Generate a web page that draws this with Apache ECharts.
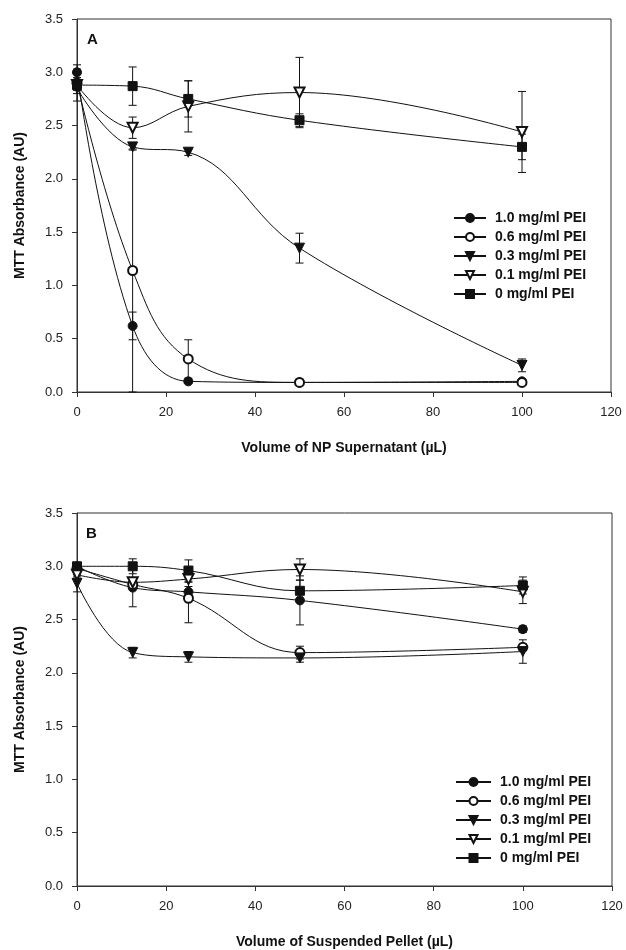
<!DOCTYPE html>
<html>
<head>
<meta charset="utf-8">
<script src="https://cdn.jsdelivr.net/npm/echarts@6/dist/echarts.min.js"></script>
<style>
html,body{margin:0;padding:0;background:#fff;}
#chart{width:626px;height:950px;}
</style>
</head>
<body>
<div id="chart"></div>
<script>
// ---- data ----
var xValues = [0, 12.5, 25, 50, 100];
var seriesNames = ['1.0 mg/ml PEI', '0.6 mg/ml PEI', '0.3 mg/ml PEI', '0.1 mg/ml PEI', '0 mg/ml PEI'];
var yTicks = [0, 0.5, 1.0, 1.5, 2.0, 2.5, 3.0, 3.5];
var xTicks = [0, 20, 40, 60, 80, 100, 120];

// Panel A: Volume of NP Supernatant
var a10 = [3.00, 0.62, 0.10, 0.09, 0.10];
var a10err = [0.07, 0.13, 0.02, 0.01, 0.01];
var a06 = [2.90, 1.14, 0.31, 0.09, 0.09];
var a06err = [0.05, 1.14, 0.18, 0.01, 0.01];
var a03 = [2.85, 2.30, 2.25, 1.35, 0.25];
var a03err = [0.05, 0.03, 0.03, 0.14, 0.06];
var a01 = [2.88, 2.48, 2.68, 2.81, 2.44];
var a01err = [0.05, 0.10, 0.24, 0.33, 0.38];
var a00 = [2.88, 2.87, 2.75, 2.55, 2.30];
var a00err = [0.15, 0.18, 0.17, 0.06, 0.12];

// Panel B: Volume of Suspended Pellet
var b10 = [3.00, 2.80, 2.76, 2.68, 2.41];
var b10err = [0.02, 0.18, 0.05, 0.23, 0.03];
var b06 = [2.98, 2.83, 2.70, 2.19, 2.24];
var b06err = [0.02, 0.03, 0.23, 0.06, 0.03];
var b03 = [2.84, 2.19, 2.15, 2.14, 2.20];
var b03err = [0.08, 0.05, 0.05, 0.04, 0.11];
var b01 = [2.92, 2.85, 2.88, 2.97, 2.76];
var b01err = [0.02, 0.03, 0.03, 0.10, 0.11];
var b00 = [3.00, 3.00, 2.96, 2.77, 2.82];
var b00err = [0.02, 0.07, 0.10, 0.10, 0.08];

// ---- chart ----
var FONT = '"Liberation Sans", Arial, Helvetica, sans-serif';
var INK = '#111';
var symbols = [
  {symbol: 'circle', size: 9, rotate: 0},
  {symbol: 'emptyCircle', size: 9, rotate: 0},
  {symbol: 'triangle', size: 10, rotate: 180},
  {symbol: 'emptyTriangle', size: 10, rotate: 180},
  {symbol: 'rect', size: 9, rotate: 0}
];

function pairs(vals) {
  return xValues.map(function (x, i) { return [x, vals[i]]; });
}
function errData(vals, errs) {
  return xValues.map(function (x, i) { return [x, vals[i] - errs[i], vals[i] + errs[i]]; });
}
function renderErr(params, api) {
  var x = api.value(0);
  var lo = api.coord([x, api.value(1)]);
  var hi = api.coord([x, api.value(2)]);
  var hw = 4;
  var st = {stroke: INK, lineWidth: 1};
  return {
    type: 'group',
    children: [
      {type: 'line', shape: {x1: lo[0], y1: lo[1], x2: hi[0], y2: hi[1]}, style: st},
      {type: 'line', shape: {x1: lo[0] - hw, y1: lo[1], x2: lo[0] + hw, y2: lo[1]}, style: st},
      {type: 'line', shape: {x1: hi[0] - hw, y1: hi[1], x2: hi[0] + hw, y2: hi[1]}, style: st}
    ]
  };
}

var panelA = [[a10, a10err], [a06, a06err], [a03, a03err], [a01, a01err], [a00, a00err]];
var panelB = [[b10, b10err], [b06, b06err], [b03, b03err], [b01, b01err], [b00, b00err]];

var series = [];
[panelA, panelB].forEach(function (panel, gi) {
  panel.forEach(function (d, si) {
    series.push({
      type: 'custom',
      xAxisIndex: gi, yAxisIndex: gi,
      renderItem: renderErr,
      data: errData(d[0], d[1]),
      z: 1,
      silent: true,
      clip: false
    });
  });
  panel.forEach(function (d, si) {
    var sy = symbols[si];
    series.push({
      name: seriesNames[si],
      type: 'line',
      xAxisIndex: gi, yAxisIndex: gi,
      data: pairs(d[0]),
      smooth: 0.4,
      symbol: sy.symbol,
      symbolSize: sy.size,
      symbolRotate: sy.rotate,
      showAllSymbol: true,
      lineStyle: {color: INK, width: 1},
      itemStyle: {color: INK, borderColor: INK, borderWidth: 1},
      z: 3 + si,
      animation: false
    });
  });
});

function xAxis(gi, name) {
  return {
    type: 'value', gridIndex: gi, min: 0, max: 120, interval: 20,
    name: name, nameLocation: 'middle', nameGap: 49,
    nameTextStyle: {fontFamily: FONT, fontWeight: 'bold', fontSize: 14, color: INK},
    axisLine: {lineStyle: {color: '#333', width: 1}},
    axisTick: {show: true, inside: false, length: 5, lineStyle: {color: '#333'}},
    axisLabel: {fontFamily: FONT, fontSize: 13, color: '#222', margin: 14},
    splitLine: {show: false}
  };
}
function yAxis(gi) {
  return {
    type: 'value', gridIndex: gi, min: 0, max: 3.5, interval: 0.5,
    name: 'MTT Absorbance (AU)', nameLocation: 'middle', nameGap: 50, nameRotate: 90,
    nameTextStyle: {fontFamily: FONT, fontWeight: 'bold', fontSize: 14, color: INK},
    axisLine: {show: true, lineStyle: {color: '#333', width: 1}},
    axisTick: {show: true, inside: false, length: 5, lineStyle: {color: '#333'}},
    axisLabel: {fontFamily: FONT, fontSize: 13, color: '#222', margin: 14,
      formatter: function (v) { return v.toFixed(1); }},
    splitLine: {show: false}
  };
}
function legend(left, top, w) {
  return {
    left: left, top: top, orient: 'vertical',
    data: seriesNames.slice(),
    itemWidth: w, itemHeight: 10, itemGap: 5,
    textStyle: {fontFamily: FONT, fontWeight: 'bold', fontSize: 14, color: INK, padding: [0, 0, 0, 4]},
    selectedMode: false
  };
}

var chart = echarts.init(document.getElementById('chart'), null, {renderer: 'canvas'});
chart.setOption({
  animation: false,
  backgroundColor: '#fff',
  grid: [
    {left: 77, top: 19, width: 534, height: 373, show: true, borderColor: '#333', borderWidth: 1, backgroundColor: 'transparent'},
    {left: 77, top: 513, width: 535, height: 374, show: true, borderColor: '#333', borderWidth: 1, backgroundColor: 'transparent'}
  ],
  xAxis: [xAxis(0, 'Volume of NP Supernatant (µL)'), xAxis(1, 'Volume of Suspended Pellet (µL)')],
  yAxis: [yAxis(0), yAxis(1)],
  legend: [legend(448, 206, 32), legend(450, 770, 35)],
  graphic: [
    {type: 'text', left: 87, top: 32, style: {text: 'A', font: 'bold 15px ' + FONT, fill: INK}},
    {type: 'text', left: 86, top: 526, style: {text: 'B', font: 'bold 15px ' + FONT, fill: INK}}
  ],
  series: series
});
</script>
</body>
</html>
